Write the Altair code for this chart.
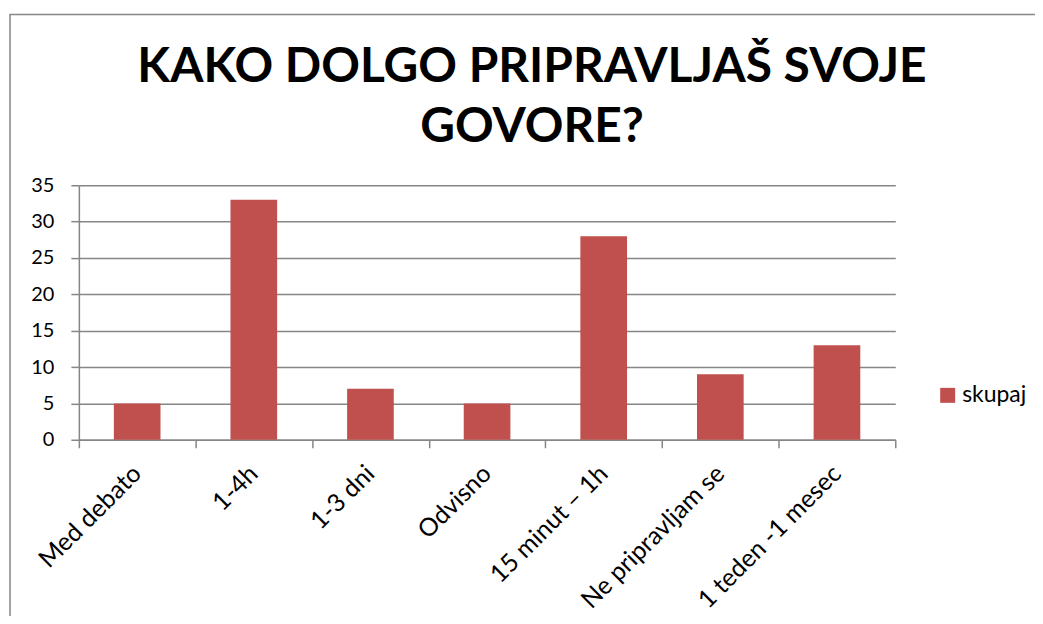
import altair as alt
import pandas as pd

categories = ["Med debato", "1-4h", "1-3 dni", "Odvisno", "15 minut – 1h",
              "Ne pripravljam se", "1 teden -1 mesec"]
values = [5, 33, 7, 5, 28, 9, 13]
series_name = "skupaj"
y_ticks = [0, 5, 10, 15, 20, 25, 30, 35]
title_lines = ["KAKO DOLGO PRIPRAVLJAŠ SVOJE", "GOVORE?"]

df = pd.DataFrame({"kategorija": categories, "vrednost": values,
                   "serija": [series_name] * len(categories)})

GREY = "#868686"
BAR = "#C0504D"
FONT = "Lato"

bars = alt.Chart(df).mark_bar(width=alt.RelativeBandSize(0.4)).encode(
    x=alt.X("kategorija:N", sort=None, title=None,
            scale=alt.Scale(paddingInner=0, paddingOuter=0),
            axis=alt.Axis(labelAngle=-45, tickBand="extent", grid=False,
                          domainColor=GREY, tickColor=GREY, tickSize=8,
                          domainWidth=1.5, tickWidth=1.5, labelOffset=-9,
                          labelFontSize=25, labelPadding=13, labelColor="black",
                          labelFont=FONT, labelLimit=400)),
    y=alt.Y("vrednost:Q", title=None, scale=alt.Scale(domain=[0, 35]),
            axis=alt.Axis(values=y_ticks, grid=True, gridColor=GREY, gridWidth=1.5,
                          domainColor=GREY, domainWidth=1.5, tickColor=GREY,
                          tickWidth=1.5, tickSize=8, labelPadding=17,
                          labelFontSize=20, labelColor="black", labelFont=FONT)),
    color=alt.Color("serija:N", scale=alt.Scale(range=[BAR]),
                    legend=alt.Legend(title=None, orient="none", legendX=859, legendY=199,
                                      symbolType="square", symbolSize=225,
                                      symbolStrokeWidth=0, labelFontSize=23,
                                      labelFont=FONT, labelColor="black",
                                      labelOffset=3)),
)

frame = alt.Chart(pd.DataFrame({"f": [0]})).mark_rect(
    fillOpacity=0, stroke=GREY, strokeWidth=1.5
).encode(x=alt.value(-69), x2=alt.value(975), y=alt.value(-171), y2=alt.value(450))

chart = alt.layer(frame, bars).properties(
    width=818, height=255,
    padding={"left": 71, "top": 177, "right": 140, "bottom": 176},
    autosize=alt.AutoSizeParams(type="none"),
    title=alt.TitleParams(text=title_lines, fontSize=48, font=FONT, fontWeight="bold",
                          anchor="middle", dx=45, offset=-138, color="black",
                          lineHeight=60, frame="group"),
).configure_view(stroke=None)

chart.save("out.html", embed_options={"renderer": "svg", "actions": False})
